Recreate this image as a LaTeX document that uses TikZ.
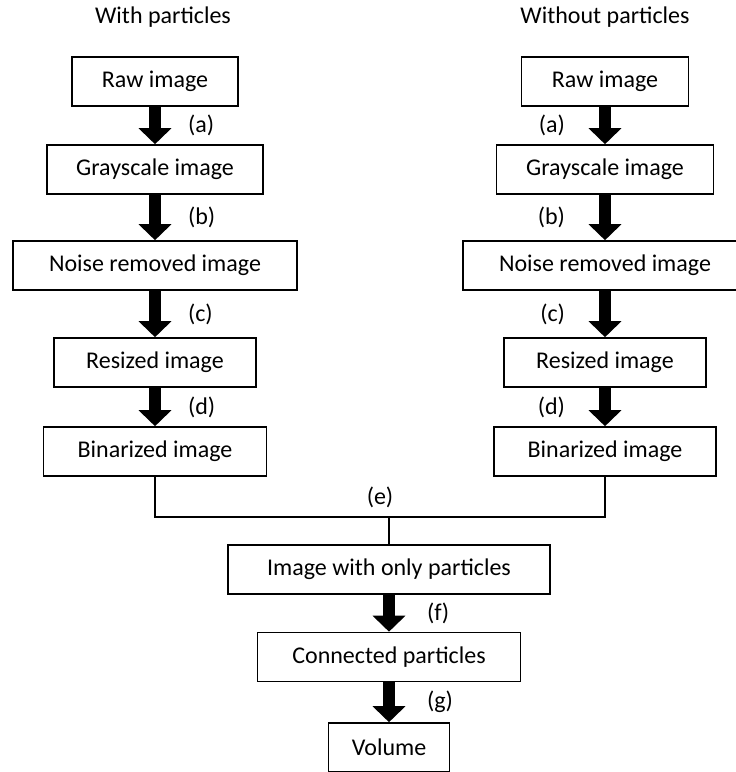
\documentclass[tikz,border=0pt]{standalone}
\usepackage{fontspec}
\setmainfont{Carlito}
\usetikzlibrary{arrows.meta,positioning}

\begin{document}
\begin{tikzpicture}[x=1pt, y=-1pt,
                    every node/.style={font=\fontsize{24}{28}\selectfont},
                    stage/.style={draw, line width=1.6pt, inner sep=0pt,
                                  minimum height=49pt},
                    flow/.style={line width=12pt,
                                 -{Triangle[width=32pt,length=16pt]}},
                    link/.style={line width=1.6pt},
                    tag/.style={inner sep=0pt}]
    \clip (0,0) rectangle (736,772);

    % titles
    \node[tag] (withT) at (163,17) {With particles};
    \node[tag] (withoutT) at (605,17) {Without particles};

    % left column
    \node[stage, minimum width=166pt] (lraw) at (155,81.5) {Raw image};
    \node[stage, minimum width=216pt] (lgray) at (155,169.5) {Grayscale image};
    \node[stage, minimum width=284pt] (lnoise) at (155,265.5) {Noise removed image};
    \node[stage, minimum width=202pt] (lsize) at (155,362.5) {Resized image};
    \node[stage, minimum width=223pt] (lbin) at (155,451.5) {Binarized image};

    % right column
    \node[stage, minimum width=167pt] (rraw) at (605,81.5) {Raw image};
    \node[stage, minimum width=217pt] (rgray) at (605,169.5) {Grayscale image};
    \node[stage, minimum width=284pt] (rnoise) at (605,265.5) {Noise removed image};
    \node[stage, minimum width=202pt] (rsize) at (605,362.5) {Resized image};
    \node[stage, minimum width=222pt] (rbin) at (605,451.5) {Binarized image};

    % merged part
    \node[stage, minimum width=322pt] (only) at (389,569.5) {Image with only particles};
    \node[stage, minimum width=263pt] (conn) at (389,657) {Connected particles};
    \node[stage, minimum width=121pt] (vol) at (389,747.5) {Volume};

    \draw[flow] (lraw) -- (lgray) node[tag, midway, right=27pt] {(a)};
    \draw[flow] (lgray) -- (lnoise) node[tag, midway, right=27pt] {(b)};
    \draw[flow] (lnoise) -- (lsize) node[tag, midway, right=27pt] {(c)};
    \draw[flow] (lsize) -- (lbin) node[tag, midway, right=27pt] {(d)};

    \draw[flow] (rraw) -- (rgray) node[tag, midway, left=34pt] {(a)};
    \draw[flow] (rgray) -- (rnoise) node[tag, midway, left=34pt] {(b)};
    \draw[flow] (rnoise) -- (rsize) node[tag, midway, left=34pt] {(c)};
    \draw[flow] (rsize) -- (rbin) node[tag, midway, left=34pt] {(d)};

    \coordinate (join) at (389,517);
    \draw[link] (lbin.south) -- (lbin.south |- join) -- (rbin.south |- join) -- (rbin.south);
    \draw[link] (join) -- (only.north);
    \node[tag] (e) at (380,497) {(e)};

    \draw[flow] (only) -- (conn) node[tag, midway, right=32pt] {(f)};
    \draw[flow] (conn) -- (vol) node[tag, midway, right=32pt] {(g)};
\end{tikzpicture}
\end{document}
